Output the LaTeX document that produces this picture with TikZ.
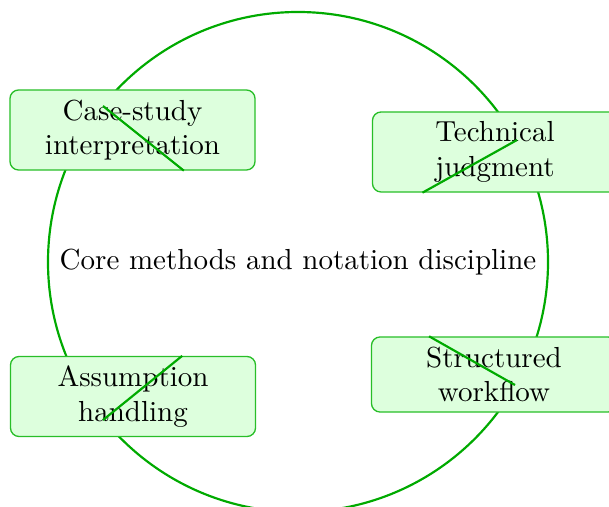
\documentclass[tikz,border=0pt]{standalone}
\usetikzlibrary{calc}
\definecolor{ringgreen}{RGB}{0,170,0}
\definecolor{boxfill}{RGB}{221,255,221}
\definecolor{boxdraw}{RGB}{40,190,40}
\begin{document}
\begin{tikzpicture}[x=0.3448pt,y=-0.3448pt,
  topic/.style={draw=boxdraw, fill=boxfill, line width=0.45pt, rounded corners=3pt,
    minimum width=84.5pt, minimum height=27.6pt, text width=80pt, align=center, inner sep=0pt},
  ring/.style={draw=ringgreen, line width=0.75pt},
  spoke/.style={draw=ringgreen, line width=0.75pt}]
\useasboundingbox (0,0) rectangle (609,507);
\coordinate (c) at (298,262);
\draw[ring] (c) circle [radius=250];
\node[topic] (b1) at (132.5,130) {Case-study\\interpretation};
\node[topic] (b2) at (495,152) {Technical\\judgment};
\node[topic] (b3) at (133,396.5) {Assumption\\handling};
\node[topic, minimum height=25.9pt] (b4) at (494,374.5) {Structured\\workflow};
\node (core) at (c) {Core methods and notation discipline};
\coordinate (p1) at (103,106);
\coordinate (p2) at (517,140);
\coordinate (p3) at (103,420);
\coordinate (p4) at (515,385);
\draw[spoke] (p1) -- (intersection of p1--c and b1.south west--b1.south east);
\draw[spoke] (p2) -- (intersection of p2--c and b2.south west--b2.south east);
\draw[spoke] (p3) -- (intersection of p3--c and b3.north west--b3.north east);
\draw[spoke] (p4) -- (intersection of p4--c and b4.north west--b4.north east);
\end{tikzpicture}
\end{document}
